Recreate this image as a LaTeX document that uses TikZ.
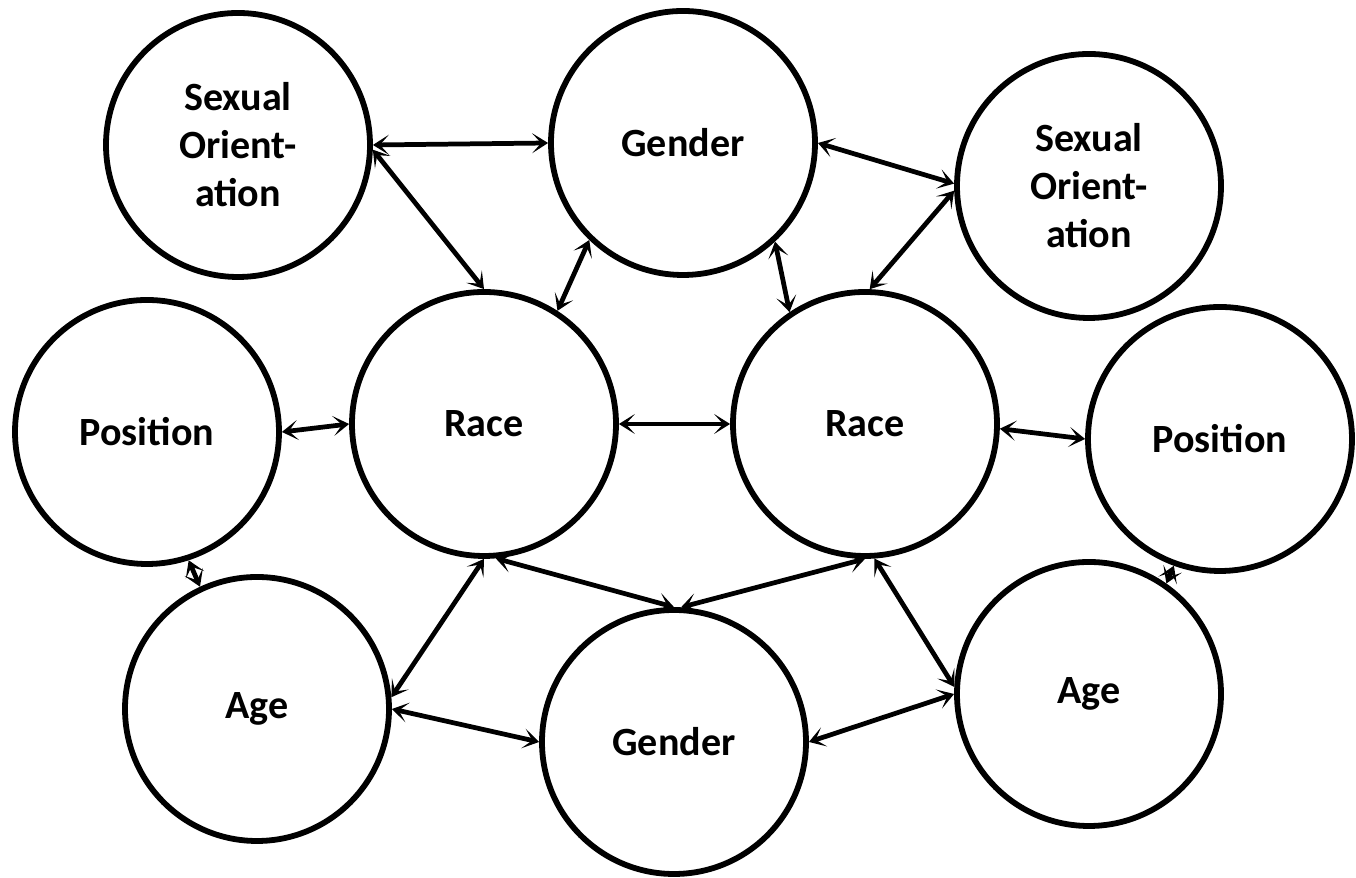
\documentclass[tikz,border=0pt]{standalone}
\usepackage{fontspec}
\setmainfont{Carlito}
\usetikzlibrary{arrows.meta}

\tikzset{
	trait/.style={circle,draw,line width=3.3pt,minimum size=5.28cm,inner sep=0pt,
		align=center,font=\fontsize{22.8}{27.3}\selectfont\bfseries},
	link/.style={line width=2.7pt,{Stealth[length=0.32cm,width=0.4cm,inset=0.18cm]}-{Stealth[length=0.32cm,width=0.4cm,inset=0.18cm]}}
}

\begin{document}
\begin{tikzpicture}
	\useasboundingbox (0,0) rectangle (27.12,17.56);
	% top row
	\node[trait] (so1) at (4.76,14.66) {Sexual\\Orient-\\ation};
	\node[trait] (gen1) at (13.66,14.70) {Gender};
	\node[trait] (so2) at (21.78,13.84) {Sexual\\Orient-\\ation};
	% middle row
	\node[trait] (pos1) at (2.94,8.92) {Position};
	\node[trait] (race1) at (9.68,9.08) {Race};
	\node[trait] (race2) at (17.30,9.08) {Race};
	\node[trait] (pos2) at (24.40,8.78) {Position};
	% bottom row
	\node[trait] (age1) at (5.14,3.38) {Age};
	\node[trait] (gen2) at (13.48,2.72) {Gender};
	\node[trait] (age2) at (21.78,3.68) {Age};

	\draw[link] (so1.east) -- (gen1.west);
	\draw[link] (so1.-2) -- (race1.north);
	\draw[link] (gen1.east) -- (so2.179);
	\draw[link] (gen1.226) -- (race1.57);
	\draw[link] (gen1.313) -- (race2.124);
	\draw[link] (so2.182) -- (race2.88);
	\draw[link] (pos1.east) -- (race1.west);
	\draw[link] (race1.east) -- (race2.west);
	\draw[link] (race2.-2) -- (pos2.west);
	\draw[link] (race1.south) -- (age1.5);
	\draw[link] (race1.-85) -- (gen2.north);
	\draw[link] (race2.-90) -- (gen2.87);
	\draw[link] (race2.-86) -- (age2.177);
	\draw[link] (age1.east) -- (gen2.west);
	\draw[link] (gen2.east) -- (age2.west);
	\draw[link] (pos1.-72) -- (age1.115);
	\draw[link] (pos2.250) -- (age2.55);
\end{tikzpicture}
\end{document}
